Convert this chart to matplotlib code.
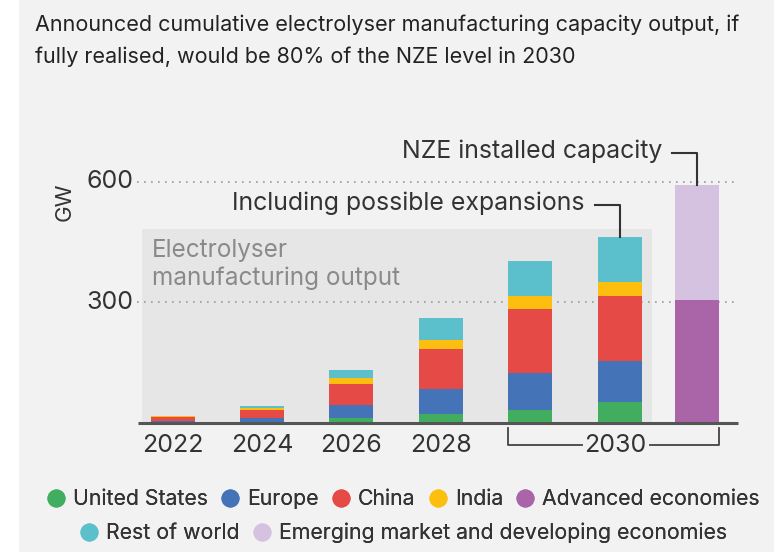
import numpy as np
import matplotlib
matplotlib.use("Agg")
import matplotlib.pyplot as plt
from matplotlib.lines import Line2D
from matplotlib.patches import Rectangle

plt.rcParams["font.family"] = ["Inter", "DejaVu Sans"]

# ── data ────────────────────────────────────────────────────────────────
years = ["2022", "2024", "2026", "2028", "2030", "2030"]
us     = [2, 4, 14, 23, 33, 53]
europe = [4, 10, 32, 63, 93, 102]
china  = [10, 18, 52, 99, 158, 160]
india  = [1, 5, 14, 23, 32, 37]
row    = [2, 6, 21, 54, 88, 110]

nze_advanced = 306
nze_emde = 286

COLORS = {
    "United States": "#41ad5e",
    "Europe": "#4473b8",
    "China": "#e64a47",
    "India": "#fcbf10",
    "Advanced economies": "#a965a8",
    "Rest of world": "#5bc0cc",
    "Emerging market and developing economies": "#d5c2e0",
}

# bar positions (one unit = spacing between year bars)
x = np.arange(len(years), dtype=float)
x_nze = 5.87
W = 0.49

BG = "#f2f2f2"
fig = plt.figure(figsize=(7.74, 5.52), dpi=100, facecolor=BG)
ax = fig.add_axes([0, 0, 1, 1])
ax.set_facecolor(BG)
ax.axis("off")

# pixel-aligned scales: x px = 172.6 + 89.4*i, baseline at px 423.3, 0.4027 px / GW
PX, PY0, PYS = 89.4, 423.3, 0.4027
ax.set_xlim(-172.6 / PX, (774 - 172.6) / PX)
ax.set_ylim(-(552 - PY0) / PYS, PY0 / PYS)

def xd(px):
    return (px - 172.6) / PX

def yd(py):
    return (PY0 - py) / PYS

# white strip on the left
fig.patches.append(Rectangle((0, 0), 18 / 774, 1, transform=fig.transFigure,
                             color="white", zorder=0))

# grey box around manufacturing output bars
ax.add_patch(Rectangle((xd(142), 0), xd(651.7) - xd(142), yd(229),
                       color="#e6e6e6", lw=0, zorder=0))
for line, yb in [("Electrolyser", 256.7), ("manufacturing output", 285)]:
    ax.text(xd(152), yd(yb), line, fontsize=17.5, color="#8a8a8a",
            ha="left", va="baseline", zorder=1)

# dotted gridlines
for v in (300, 600):
    ax.plot([xd(137), xd(734)], [v, v], ls=(0, (1, 3.2)), color="#9a9a9a",
            lw=1.2, zorder=1)
    ax.text(xd(133), v, str(v), fontsize=18, color="#333333", ha="right",
            va="center")
ax.text(xd(65), yd(202), "GW", fontsize=16, color="#333333", rotation=90,
        ha="center", va="center")

# stacked bars
bottom = np.zeros(len(years))
for name, vals in [("United States", us), ("Europe", europe), ("China", china),
                   ("India", india), ("Rest of world", row)]:
    ax.bar(x, vals, W, bottom=bottom, color=COLORS[name], lw=0, zorder=2)
    bottom += np.array(vals)

ax.bar(x_nze, nze_advanced, W, color=COLORS["Advanced economies"], lw=0, zorder=2)
ax.bar(x_nze, nze_emde, W, bottom=nze_advanced,
       color=COLORS["Emerging market and developing economies"], lw=0, zorder=2)

# baseline
ax.plot([xd(138), xd(737.6)], [0, 0], color="#555555", lw=2.2, zorder=3,
        solid_capstyle="butt")

# x labels
for i in range(4):
    ax.text(x[i], yd(445), years[i], fontsize=18, color="#333333",
            ha="center", va="center")
left, right = x[4] - W / 2, x_nze + W / 2
ax.plot([left, left, xd(582)], [yd(428), yd(445), yd(445)], color="#444444",
        lw=1.3, zorder=3)
ax.plot([xd(650), right, right], [yd(445), yd(445), yd(428)], color="#444444",
        lw=1.3, zorder=3)
ax.text(xd(615.6), yd(445), "2030", fontsize=18, color="#333333",
        ha="center", va="center")

# annotations
top_exp = bottom[5]
ax.plot([xd(595), x[5], x[5]], [yd(205), yd(205), top_exp], color="#333333",
        lw=1.5, zorder=4)
ax.text(xd(585), yd(203.3), "Including possible expansions", fontsize=17.9,
        color="#333333", ha="right", va="center")

top_nze = nze_advanced + nze_emde
ax.plot([xd(672), x_nze, x_nze], [yd(152.7), yd(152.7), top_nze],
        color="#333333", lw=1.5, zorder=4)
ax.text(xd(662), yd(151.7), "NZE installed capacity", fontsize=17.9,
        color="#333333", ha="right", va="center")

# title
for line, yc in [("Announced cumulative electrolyser manufacturing capacity output, if", 25),
                 ("fully realised, would be 80% of the NZE level in 2030", 57)]:
    fig.text(35 / 774, 1 - yc / 552, line, fontsize=15.5, color="#222222",
             ha="left", va="center")

# legend, two centred rows
def handle(name):
    return Line2D([], [], ls="", marker="o", ms=13, mew=0,
                  color=COLORS[name], label=name)

row1 = ["United States", "Europe", "China", "India", "Advanced economies"]
row2 = ["Rest of world", "Emerging market and developing economies"]
for names, yc in [(row1, 499), (row2, 533)]:
    leg = fig.legend(handles=[handle(n) for n in names], loc="center",
                     bbox_to_anchor=(403 / 774, 1 - yc / 552), ncol=len(names),
                     frameon=False, fontsize=15.3, handlelength=0.9,
                     handletextpad=0.35, columnspacing=0.6, borderpad=0)
    for t in leg.get_texts():
        t.set_color("#333333")
    fig.add_artist(leg)

fig.savefig("out.png", dpi=100, facecolor=BG)
